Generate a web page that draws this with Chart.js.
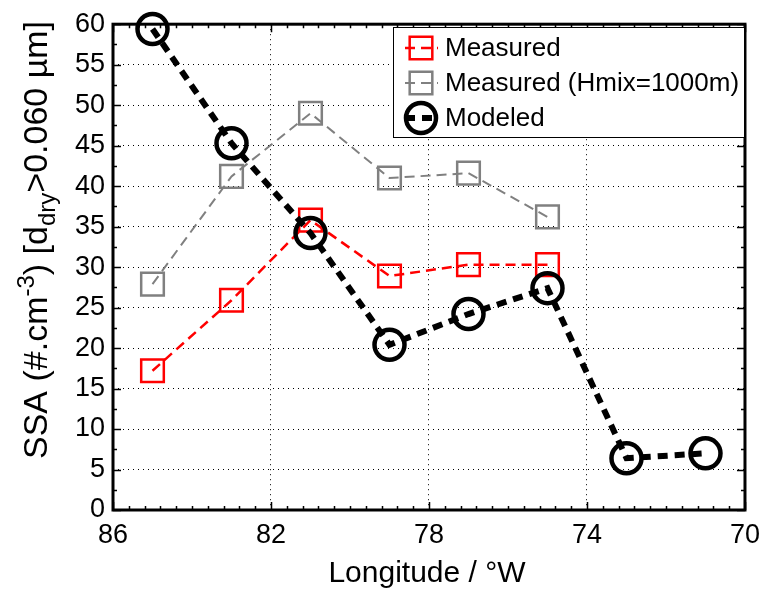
<!DOCTYPE html>
<html>
<head>
<meta charset="utf-8">
<script src="https://cdn.jsdelivr.net/npm/chart.js@4.4.1/dist/chart.umd.min.js"></script>
<style>
html,body{margin:0;padding:0;background:#fff;}
#wrap{width:769px;height:591px;position:relative;}
canvas{display:block;}
</style>
</head>
<body>
<div id="wrap"><canvas id="c" width="769" height="591"></canvas></div>
<script>
// ---- data ----
const longitudesMeasured = [85, 83, 81, 79, 77, 75];
const longitudesModeled = [85, 83, 81, 79, 77, 75, 73, 71];
const measured = [17.2, 25.9, 35.8, 28.9, 30.3, 30.3];
const measuredHmix = [27.9, 41.2, 49.0, 41.0, 41.6, 36.2];
const modeled = [59.4, 45.3, 34.2, 20.4, 24.2, 27.4, 6.4, 7.0];
const xTickValues = [86, 82, 78, 74, 70];
const yTickValues = [0, 5, 10, 15, 20, 25, 30, 35, 40, 45, 50, 55, 60];
const seriesLabels = ['Measured', 'Measured (Hmix=1000m)', 'Modeled'];
const xTitle = 'Longitude / °W';

const FONT = '"Liberation Sans", Arial, Helvetica, sans-serif';

function pts(xs, ys) { return ys.map((v, i) => ({ x: xs[i], y: v })); }

const frame = {
  id: 'frame',
  beforeDatasetsDraw(chart) {
    const { ctx, chartArea: a, scales: { x, y } } = chart;
    ctx.save();
    ctx.strokeStyle = '#000';
    ctx.lineWidth = 1.5;
    ctx.beginPath();
    for (let k = 0; k <= 40; k++) {
      const v = 70 + 0.4 * k;
      const px = Math.round(x.getPixelForValue(v)) + 0.5;
      const major = (k % 10) === 0;
      const L = major ? 8 : 4;
      ctx.moveTo(px, a.bottom); ctx.lineTo(px, a.bottom - L);
      ctx.moveTo(px, a.top); ctx.lineTo(px, a.top + L);
    }
    for (let k = 0; k <= 24; k++) {
      const v = 2.5 * k;
      const py = Math.round(y.getPixelForValue(v)) + 0.5;
      const major = (k % 2) === 0;
      const L = major ? 8 : 4;
      ctx.moveTo(a.left, py); ctx.lineTo(a.left + L, py);
      ctx.moveTo(a.right, py); ctx.lineTo(a.right - L, py);
    }
    ctx.stroke();
    ctx.lineWidth = 3;
    ctx.strokeRect(a.left, a.top, a.right - a.left, a.bottom - a.top);
    ctx.restore();
  }
};

const titles = {
  id: 'titles',
  afterDraw(chart) {
    const { ctx, chartArea: a } = chart;
    ctx.save();
    ctx.fillStyle = '#000';
    // x title
    ctx.font = '30px ' + FONT;
    ctx.textAlign = 'center';
    ctx.textBaseline = 'alphabetic';
    ctx.fillText(xTitle, (a.left + a.right) / 2 - 2, 582);
    // y title with super/subscripts
    const main = '34px ' + FONT, small = '24px ' + FONT;
    const segs = [
      { t: 'SSA (#.cm', f: main, dy: 0 },
      { t: '-3', f: small, dy: -13 },
      { t: ') [d', f: main, dy: 0 },
      { t: 'dry', f: small, dy: 8 },
      { t: '>0.060 µm]', f: main, dy: 0 }
    ];
    let total = 0;
    segs.forEach(s => { ctx.font = s.f; s.w = ctx.measureText(s.t).width; total += s.w; });
    ctx.translate(47, 240);
    ctx.rotate(-Math.PI / 2);
    ctx.textAlign = 'left';
    let cx = -total / 2;
    segs.forEach(s => { ctx.font = s.f; ctx.fillText(s.t, cx, s.dy); cx += s.w; });
    ctx.restore();
  }
};

const legendBox = {
  id: 'legendBox',
  afterDraw(chart) {
    const { ctx } = chart;
    const L = 393, T = 27, R = 744, B = 137;
    ctx.save();
    ctx.fillStyle = '#fff';
    ctx.fillRect(L, T, R - L, B - T);
    ctx.strokeStyle = '#000';
    ctx.lineWidth = 1;
    ctx.strokeRect(L + 0.5, T + 0.5, R - L, B - T);
    chart.data.datasets.forEach((ds, i) => {
      const cy = 48 + 35 * i;
      ctx.save();
      ctx.strokeStyle = ds.borderColor;
      ctx.lineWidth = ds.borderWidth;
      ctx.setLineDash(ds.borderDash);
      ctx.beginPath();
      ctx.moveTo(405, cy); ctx.lineTo(438, cy);
      ctx.stroke();
      ctx.setLineDash([]);
      ctx.fillStyle = 'rgba(0,0,0,0)';
      ctx.strokeStyle = ds.pointBorderColor;
      ctx.lineWidth = ds.pointBorderWidth;
      Chart.helpers.drawPoint(ctx, {
        pointStyle: ds.pointStyle, radius: ds.pointRadius, rotation: 0, borderWidth: ds.pointBorderWidth
      }, 421, cy);
      ctx.restore();
      ctx.fillStyle = '#000';
      ctx.font = '26px ' + FONT;
      ctx.textAlign = 'left';
      ctx.textBaseline = 'middle';
      ctx.fillText(ds.label, 445, cy + 1);
    });
    ctx.restore();
  }
};

new Chart(document.getElementById('c'), {
  type: 'line',
  data: {
    datasets: [
      {
        label: seriesLabels[0],
        data: pts(longitudesMeasured, measured),
        borderColor: '#ff0000', borderWidth: 2.5, borderDash: [10, 6],
        pointStyle: 'rect', pointRadius: 16, pointHoverRadius: 16,
        pointBorderColor: '#ff0000', pointBorderWidth: 2.5,
        pointBackgroundColor: 'rgba(0,0,0,0)',
        fill: false, tension: 0, clip: false, order: 3
      },
      {
        label: seriesLabels[1],
        data: pts(longitudesMeasured, measuredHmix),
        borderColor: '#808080', borderWidth: 2, borderDash: [10, 6],
        pointStyle: 'rect', pointRadius: 16, pointHoverRadius: 16,
        pointBorderColor: '#808080', pointBorderWidth: 2.5,
        pointBackgroundColor: 'rgba(0,0,0,0)',
        fill: false, tension: 0, clip: false, order: 2
      },
      {
        label: seriesLabels[2],
        data: pts(longitudesModeled, modeled),
        borderColor: '#000000', borderWidth: 6, borderDash: [10, 7],
        pointStyle: 'circle', pointRadius: 15, pointHoverRadius: 15,
        pointBorderColor: '#000000', pointBorderWidth: 4.5,
        pointBackgroundColor: 'rgba(0,0,0,0)',
        fill: false, tension: 0, clip: false, order: 1
      }
    ]
  },
  options: {
    responsive: false,
    animation: false,
    devicePixelRatio: 1,
    events: [],
    layout: { padding: { left: 0, right: 20, top: 21, bottom: 0 } },
    plugins: { legend: { display: false }, tooltip: { enabled: false }, title: { display: false } },
    scales: {
      x: {
        type: 'linear', reverse: true, min: 70, max: 86,
        afterBuildTicks: s => { s.ticks = xTickValues.map(v => ({ value: v })); },
        afterFit: s => { s.height = 81; },
        ticks: { color: '#000', font: { family: FONT, size: 27 }, padding: 9, maxRotation: 0, autoSkip: false },
        grid: { color: '#000', lineWidth: 1, drawTicks: false },
        border: { display: false, dash: [1, 4] }
      },
      y: {
        type: 'linear', min: 0, max: 60,
        afterBuildTicks: s => { s.ticks = yTickValues.map(v => ({ value: v })); },
        afterFit: s => { s.width = 113; },
        ticks: { color: '#000', font: { family: FONT, size: 27 }, padding: 8, autoSkip: false },
        grid: { color: '#000', lineWidth: 1, drawTicks: false },
        border: { display: false, dash: [1, 4] }
      }
    }
  },
  plugins: [frame, titles, legendBox]
});
</script>
</body>
</html>
